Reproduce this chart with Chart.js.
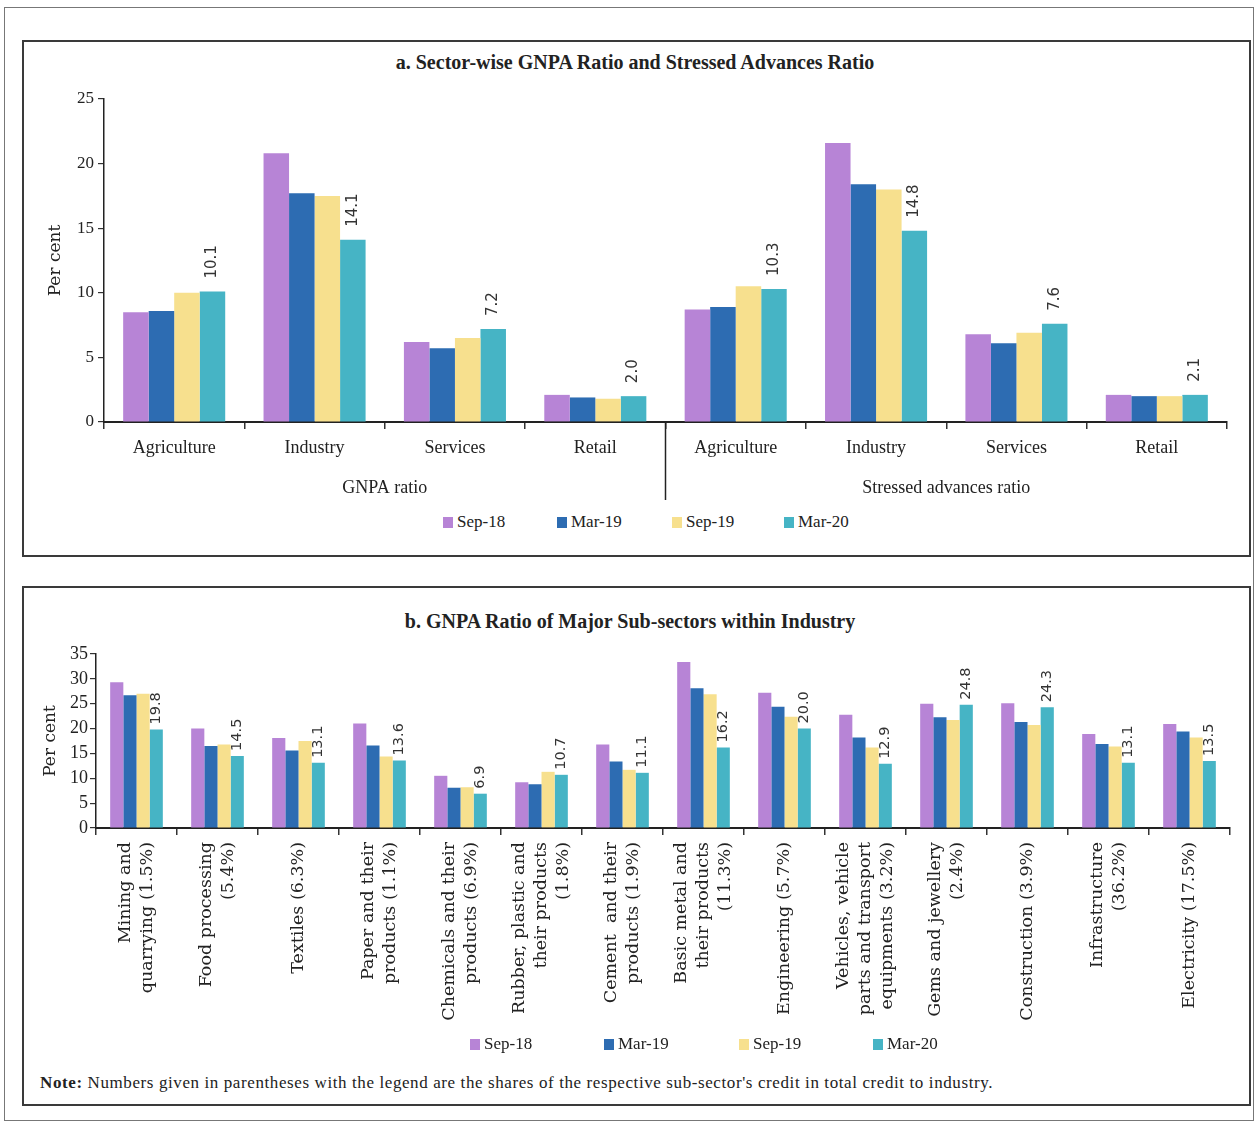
<!DOCTYPE html>
<html><head><meta charset="utf-8">
<script src="https://cdn.jsdelivr.net/npm/chart.js@4"></script>
<style>
body{margin:0;background:#fff;width:1257px;height:1124px;position:relative;overflow:hidden;font-family:"Liberation Serif",serif;color:#222}
.frame{position:absolute;left:4px;top:7px;width:1250px;height:1114px;border:1px solid #777;box-sizing:border-box}
.panel{position:absolute;border:2px solid #3a3a3a;box-sizing:border-box}
.title{position:absolute;font-weight:bold;font-size:20px;white-space:nowrap;transform:translateX(-50%);line-height:24px}
.leg{position:absolute;font-size:17px;white-space:nowrap;line-height:20px;z-index:2}
.leg i{display:inline-block;width:10px;height:11px;margin-right:4px;vertical-align:-1px}
.note{position:absolute;left:40px;top:1072px;font-size:17px;letter-spacing:0.6px;white-space:nowrap;line-height:22px}
canvas{position:absolute}
</style></head><body>
<div class="frame"></div>
<div class="panel" style="left:22px;top:40px;width:1229px;height:517px"></div>
<div class="panel" style="left:22px;top:586px;width:1229px;height:520px"></div>
<div class="title" style="left:635px;top:50px">a. Sector-wise GNPA Ratio and Stressed Advances Ratio</div>
<div class="title" style="left:630px;top:609px">b. GNPA Ratio of Major Sub-sectors within Industry</div>
<canvas id="ca" style="left:24px;top:80px;width:1224px;height:420px"></canvas>
<canvas id="cb" style="left:24px;top:640px;width:1224px;height:395px"></canvas>
<div id="legA"></div>
<div id="legB"></div>
<div class="note"><b>Note:</b> Numbers given in parentheses with the legend are the shares of the respective sub-sector's credit in total credit to industry.</div>
<script>
// ---------- data ----------
const seriesNames = ['Sep-18','Mar-19','Sep-19','Mar-20'];
const seriesColors = ['#B784D6','#2D6CB2','#F7E08E','#46B4C5'];

const categoriesA = ['Agriculture','Industry','Services','Retail','Agriculture','Industry','Services','Retail'];
const groupsA = ['GNPA ratio','Stressed advances ratio'];
const sep18A = [8.5, 20.8, 6.2, 2.1, 8.7, 21.6, 6.8, 2.1];
const mar19A = [8.6, 17.7, 5.7, 1.9, 8.9, 18.4, 6.1, 2.0];
const sep19A = [10.0, 17.5, 6.5, 1.8, 10.5, 18.0, 6.9, 2.0];
const mar20A = [10.1, 14.1, 7.2, 2.0, 10.3, 14.8, 7.6, 2.1];
const ticksA = [0, 5, 10, 15, 20, 25];

const categoriesB = [
  ['Mining and','quarrying (1.5%)'],
  ['Food processing','(5.4%)'],
  ['Textiles (6.3%)'],
  ['Paper and their','products (1.1%)'],
  ['Chemicals and their','products (6.9%)'],
  ['Rubber, plastic and','their products','(1.8%)'],
  ['Cement  and their','products (1.9%)'],
  ['Basic metal and','their products','(11.3%)'],
  ['Engineering (5.7%)'],
  ['Vehicles, vehicle','parts and transport','equipments (3.2%)'],
  ['Gems and jewellery','(2.4%)'],
  ['Construction (3.9%)'],
  ['Infrastructure','(36.2%)'],
  ['Electricity (17.5%)']
];
const sep18B = [29.3, 20.0, 18.1, 21.0, 10.5, 9.2, 16.8, 33.4, 27.2, 22.8, 25.0, 25.1, 18.9, 20.9];
const mar19B = [26.7, 16.5, 15.6, 16.6, 8.1, 8.8, 13.4, 28.1, 24.4, 18.2, 22.3, 21.3, 16.9, 19.4];
const sep19B = [27.0, 16.8, 17.5, 14.4, 8.2, 11.3, 11.7, 26.9, 22.4, 16.2, 21.7, 20.7, 16.4, 18.2];
const mar20B = [19.8, 14.5, 13.1, 13.6, 6.9, 10.7, 11.1, 16.2, 20.0, 12.9, 24.8, 24.3, 13.1, 13.5];
const ticksB = [0, 5, 10, 15, 20, 25, 30, 35];

// ---------- legends (HTML) ----------
function buildLegend(id, lefts, top){
  const host = document.getElementById(id);
  seriesNames.forEach((n,i)=>{
    const d = document.createElement('div');
    d.className='leg';
    d.style.left = lefts[i]+'px';
    d.style.top = top+'px';
    d.innerHTML = '<i style="background:'+seriesColors[i]+'"></i>'+n;
    host.appendChild(d);
  });
}
buildLegend('legA',[443,557,672,784],512);
buildLegend('legB',[470,604,739,873],1034);

const TXT = '#222';
function mkDatasets(arrs, catPct){
  return arrs.map((a,i)=>({label:seriesNames[i], data:a, backgroundColor:seriesColors[i],
    borderWidth:0, categoryPercentage:catPct, barPercentage:1.0}));
}

// value labels on the last series, rotated
function valueLabels(gap, size){
  return {id:'vl'+String(size).replace('.','_'), afterDatasetsDraw(chart){
    const ctx = chart.ctx; const meta = chart.getDatasetMeta(3);
    const data = chart.data.datasets[3].data;
    ctx.save();
    ctx.font = size+'px "DejaVu Sans"'; ctx.fillStyle = '#333';
    ctx.textAlign='left'; ctx.textBaseline='middle';
    meta.data.forEach((el,i)=>{
      ctx.save(); ctx.translate(el.x, el.y-gap); ctx.rotate(-Math.PI/2);
      ctx.fillText(data[i].toFixed(1),0,0); ctx.restore();
    });
    ctx.restore();
  }};
}

// ---------- chart a ----------
const groupPlugin = {id:'groups', afterDraw(chart){
  const ctx = chart.ctx, x = chart.scales.x, ca = chart.chartArea;
  const half = categoriesA.length/2;
  const divX = (x.getPixelForValue(half-1)+x.getPixelForValue(half))/2;
  ctx.save();
  ctx.strokeStyle='#222'; ctx.lineWidth=1.5;
  ctx.beginPath(); ctx.moveTo(divX, ca.bottom); ctx.lineTo(divX, ca.bottom+78); ctx.stroke();
  ctx.font='18px "Liberation Serif"'; ctx.fillStyle=TXT; ctx.textAlign='center'; ctx.textBaseline='middle';
  const c1 = (x.left+divX)/2, c2 = (divX+x.right)/2;
  ctx.fillText(groupsA[0], c1, ca.bottom+66);
  ctx.fillText(groupsA[1], c2, ca.bottom+66);
  ctx.restore();
}};

new Chart(document.getElementById('ca'), {
  type:'bar',
  data:{labels:categoriesA, datasets:mkDatasets([sep18A,mar19A,sep19A,mar20A],0.727)},
  options:{
    responsive:false, animation:false, events:[],
    layout:{padding:{left:0,right:21,top:19,bottom:0}},
    plugins:{legend:{display:false}, title:{display:false}, tooltip:{enabled:false}},
    scales:{
      x:{grid:{display:true,drawOnChartArea:false,tickLength:7,color:'#333',lineWidth:1.5,offset:true},
         border:{color:'#222',width:2},
         ticks:{font:{family:'Liberation Serif',size:18},color:TXT,padding:8,autoSkip:false,maxRotation:0},
         afterFit(s){s.height=78;}},
      y:{min:0,max:25,
         afterBuildTicks(s){s.ticks = ticksA.map(v=>({value:v}));},
         ticks:{font:{family:'Liberation Serif',size:17},color:TXT,padding:4},
         grid:{display:true,drawOnChartArea:false,tickLength:6,color:'#333',lineWidth:1.2},
         border:{color:'#222',width:1.5},
         title:{display:true,text:'Per cent',font:{family:'DejaVu Serif',size:17},color:TXT,padding:{top:21,bottom:0}},
         afterFit(s){s.width=80;}}
    }
  },
  plugins:[valueLabels(13,15), groupPlugin]
});

// ---------- chart b ----------
const xLabelsB = {id:'xlb', afterDraw(chart){
  const ctx = chart.ctx, x = chart.scales.x, ca = chart.chartArea;
  const lh = 22, y0 = ca.bottom + 14;
  ctx.save();
  ctx.font='17.5px "DejaVu Serif"'; ctx.fillStyle=TXT; ctx.textAlign='right'; ctx.textBaseline='middle';
  categoriesB.forEach((lines,i)=>{
    const cx = x.getPixelForValue(i), n = lines.length;
    lines.forEach((t,j)=>{
      ctx.save(); ctx.translate(cx + (j-(n-1)/2)*lh, y0); ctx.rotate(-Math.PI/2);
      ctx.fillText(t,0,0); ctx.restore();
    });
  });
  ctx.restore();
}};

new Chart(document.getElementById('cb'), {
  type:'bar',
  data:{labels:categoriesB.map(l=>l.join(' ')), datasets:mkDatasets([sep18B,mar19B,sep19B,mar20B],0.65)},
  options:{
    responsive:false, animation:false, events:[],
    layout:{padding:{left:0,right:18,top:14,bottom:0}},
    plugins:{legend:{display:false}, title:{display:false}, tooltip:{enabled:false}},
    scales:{
      x:{grid:{display:true,drawOnChartArea:false,tickLength:7,color:'#333',lineWidth:1.5,offset:true},
         border:{color:'#222',width:2},
         ticks:{display:false,autoSkip:false},
         afterFit(s){s.height=207;}},
      y:{min:0,max:35,
         afterBuildTicks(s){s.ticks = ticksB.map(v=>({value:v}));},
         ticks:{font:{family:'Liberation Serif',size:18},color:TXT,padding:2},
         grid:{display:true,drawOnChartArea:false,tickLength:6,color:'#333',lineWidth:1.2},
         border:{color:'#222',width:1.5},
         title:{display:true,text:'Per cent',font:{family:'DejaVu Serif',size:17},color:TXT,padding:{top:16,bottom:0}},
         afterFit(s){s.width=72;}}
    }
  },
  plugins:[valueLabels(5,14.5), xLabelsB]
});
</script>
</body></html>
